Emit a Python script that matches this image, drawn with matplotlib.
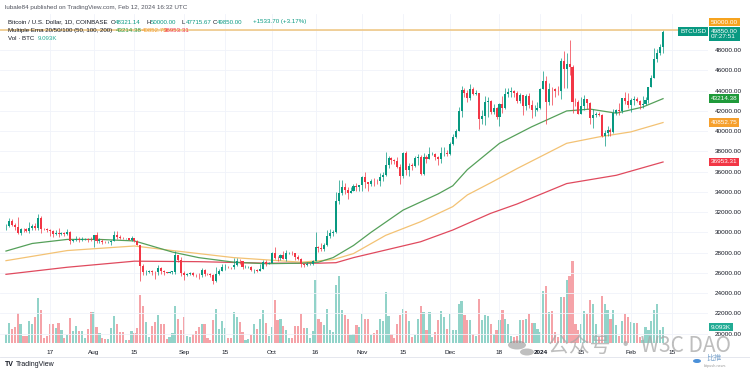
import matplotlib
matplotlib.use("Agg")
import matplotlib.pyplot as plt
import matplotlib.dates as mdates
import matplotlib.transforms as mtrans
from matplotlib.patches import Circle
import numpy as np
import pandas as pd

# BTCUSD daily, Coinbase, 2 Jul 2023 .. 12 Feb 2024
START = "2023-07-02"
first_open = 30585

closes = [
    # Jul
    30615, 31150, 30770, 30500, 29900, 30340, 30290, 30170, 30410, 30620, 30380, 31450, 30310, 30290, 30230,
    30140, 29860, 29910, 29800, 29900, 29790, 30080, 29180, 29230, 29350, 29210, 29310, 29350, 29280, 29230,
    # Aug
    29700, 29170, 29180, 29080, 29040, 29050, 29190, 29770, 29570, 29430, 29400, 29420, 29280, 29400, 29170, 28700,
    26630, 26050, 26100, 26190, 26120, 26040, 26430, 26170, 26060, 26010, 26090, 26100, 27720, 27300, 25940,
    # Sep
    25800, 25870, 25970, 25820, 25780, 25750, 26240, 25910, 25890, 25830, 25160, 25840, 26220, 26530, 26600,
    26570, 26530, 26760, 27210, 27130, 26570, 26580, 26580, 26250, 26300, 26220, 26370, 27030, 26910, 26970,
    # Oct
    28000, 27500, 27430, 27800, 27410, 27950, 27970, 27940, 27590, 27390, 26880, 26760, 26860, 26860, 27160, 28520,
    28420, 28330, 28720, 29680, 29920, 30000, 33090, 33910, 34500, 34160, 33910, 34090, 34540, 34500, 34660,
    # Nov
    35440, 34940, 34730, 35080, 35050, 35040, 35430, 35640, 36700, 37320, 37130, 37060, 36490, 35550, 37880,
    36160, 36600, 36590, 37390, 37470, 35810, 37420, 37290, 37720, 37790, 37450, 37250, 37830, 37850, 37720,
    # Dec
    38690, 39460, 39970, 41990, 44080, 43770, 43290, 44170, 43720, 43790, 41240, 41490, 42880, 43020, 41940, 42260,
    41360, 42660, 42270, 43650, 43870, 43990, 43740, 43010, 43580, 42520, 43440, 42580, 42070, 42140, 42280,
    # Jan
    44180, 44950, 42850, 44180, 44160, 43970, 43930, 46960, 46120, 46660, 46390, 42850, 42840, 41730, 42510, 43150,
    42740, 41260, 41620, 41670, 41550, 39510, 39840, 40080, 39930, 41800, 42120, 42030, 43300, 42950, 42570,
    # Feb
    43080, 43190, 43000, 42580, 42660, 43090, 44340, 45290, 47130, 47750, 48321, 49850,
]

highs = [
    30780, 31380, 31320, 30880, 31500, 30450, 30380, 30430, 31030, 30800, 30970, 31810, 31640, 30400, 30440,
    30340, 30240, 30190, 30400, 30050, 29990, 30350, 30100, 29380, 29680, 29580, 29530, 29410, 29450, 29520,
    29740, 30050, 29420, 29320, 29100, 29170, 29250, 30180, 30140, 29690, 29530, 29460, 29460, 29660, 29450, 29220,
    28780, 26830, 26260, 26300, 26250, 26130, 26800, 26560, 26300, 26080, 26180, 26220, 28140, 27760, 27580,
    26140, 25980, 26120, 26100, 25880, 26020, 26440, 26420, 25950, 26000, 25880, 26550, 26380, 26830, 26880,
    26670, 26620, 27430, 27480, 27380, 27160, 26730, 26630, 26720, 26420, 26390, 26840, 27310, 27230, 27090,
    28060, 28590, 27670, 27830, 28120, 28280, 28040, 28110, 27990, 27730, 27480, 26950, 27100, 26970, 27290, 30000,
    28610, 28980, 28930, 30220, 30340, 30200, 34000, 35200, 35130, 34850, 34480, 34480, 34760, 34850, 34720,
    35570, 35980, 34940, 35240, 35400, 35280, 35880, 35980, 37970, 37520, 37410, 37240, 37420, 36760, 37980,
    38000, 36850, 36850, 37500, 37750, 37650, 37870, 37650, 38420, 37900, 37840, 37570, 38390, 38420, 38150,
    38970, 39690, 40190, 42410, 44490, 44300, 44060, 44700, 44370, 44040, 43790, 42080, 43440, 43420, 43090, 42720,
    42430, 42750, 43500, 44280, 44230, 44380, 44040, 43950, 43800, 43600, 43670, 43800, 43120, 42610, 42900,
    44230, 45900, 45500, 44780, 44350, 44230, 44500, 47250, 47890, 47700, 48970, 46500, 43260, 43080, 43400, 43580,
    43210, 42920, 42200, 41860, 41880, 41680, 40160, 40540, 40290, 42220, 42200, 42830, 43320, 43870, 43750,
    43290, 43480, 43380, 43110, 43500, 43420, 44380, 45600, 48200, 48150, 48590, 50000,
]

lows = [
    30270, 30570, 30640, 30200, 29850, 29700, 30050, 30060, 29950, 30280, 30200, 30250, 29950, 30250, 30080,
    29680, 29530, 29760, 29570, 29730, 29600, 29730, 28860, 29040, 29100, 29070, 29120, 29260, 29030, 29110,
    28590, 28950, 28960, 28800, 28950, 28970, 28700, 29110, 29370, 29330, 29330, 29360, 29250, 29100, 29050, 28700,
    25170, 25800, 25800, 25970, 25800, 25360, 25800, 25860, 25780, 25980, 25970, 25880, 25920, 27030, 25660,
    25330, 25720, 25800, 25650, 25580, 25400, 25620, 25660, 25810, 25600, 24900, 25130, 25760, 26130, 26230,
    26470, 26420, 26370, 26670, 26850, 26360, 26480, 26510, 26150, 25990, 26090, 26130, 26340, 26670, 26890,
    26950, 27330, 27170, 27250, 27340, 27180, 27860, 27730, 27290, 27300, 26560, 26550, 26690, 26820, 26810, 27120,
    28090, 28130, 28170, 28600, 29480, 29680, 29890, 32830, 33720, 33800, 33340, 33880, 34050, 34100, 34080,
    34110, 34400, 34100, 34600, 34540, 34740, 34550, 35110, 35540, 36340, 36740, 36770, 36340, 34800, 35360,
    35700, 35520, 36200, 36410, 36700, 35650, 35630, 36870, 37260, 37600, 37160, 36700, 36880, 37590, 37500,
    37620, 38650, 39290, 39970, 41420, 43340, 42840, 43100, 43580, 43570, 40250, 40700, 40620, 41430, 41680, 41700,
    41250, 40550, 41820, 42210, 43340, 43420, 43330, 42800, 42760, 41620, 42120, 42300, 41300, 41540, 41970,
    42180, 44180, 40750, 42630, 42630, 43420, 43580, 43200, 44300, 44310, 45600, 41800, 42440, 41720, 41730, 42050,
    42200, 40670, 40270, 41430, 41460, 39440, 38500, 39480, 39530, 39800, 41640, 41620, 41800, 42690, 42300,
    41880, 42600, 42880, 42220, 42270, 42570, 42790, 44340, 45250, 46800, 47560, 47715,
]

# volume, thousand BTC
volumes = [
    5.0, 11.4, 8.0, 9.1, 17.1, 10.8, 4.0, 4.0, 12.5, 10.8, 14.8, 25.6, 18.8, 2.9, 4.0, 10.8, 10.8, 8.5, 11.4, 7.4,
    2.9, 4.6, 14.2, 6.8, 9.7, 6.8, 6.8, 2.9, 8.0, 17.7, 17.7, 9.1, 5.7, 2.9, 2.3, 2.3, 8.5, 15.4, 10.8, 6.3,
    6.3, 1.7, 1.7, 6.8, 5.7, 8.5, 27.4, 21.1, 12.0, 3.4, 9.7, 12.0, 16.0, 10.8, 10.8, 2.3, 3.4, 5.7, 21.1, 13.7,
    7.4, 14.8, 4.0, 3.4, 5.1, 6.8, 9.1, 10.8, 10.8, 2.9, 1.7, 13.1, 19.4, 8.0, 12.5, 8.5, 2.9, 2.9, 17.7, 14.8,
    12.0, 6.3, 1.7, 2.3, 4.6, 10.8, 8.0, 13.7, 18.8, 11.4, 4.0, 9.1, 24.5, 13.1, 13.7, 9.7, 7.4, 2.9, 2.9, 9.7,
    9.7, 16.5, 8.5, 8.5, 2.9, 6.8, 35.9, 13.7, 12.0, 10.3, 19.4, 7.4, 6.3, 33.1, 38.2, 18.8, 16.0, 13.7, 4.6, 5.1,
    10.3, 9.1, 16.5, 13.7, 13.7, 4.6, 5.7, 7.4, 13.7, 12.5, 29.1, 15.4, 5.1, 2.9, 10.8, 16.0, 19.4, 18.2, 12.5, 3.4,
    4.6, 13.7, 21.1, 17.7, 7.4, 17.7, 3.4, 6.3, 13.1, 18.2, 14.8, 8.0, 16.5, 7.4, 7.4, 22.2, 23.9, 16.0, 13.1, 13.1,
    5.1, 4.0, 25.1, 13.1, 16.0, 15.4, 10.8, 5.1, 7.4, 13.1, 18.8, 13.7, 10.8, 4.0, 3.4, 4.0, 13.1, 13.1, 13.7, 16.5,
    11.4, 11.4, 8.0, 6.3, 29.6, 32.5, 17.7, 18.2, 6.3, 3.4, 26.2, 26.2, 35.9, 38.2, 46.7, 10.8, 7.4, 10.8, 18.2, 16.5,
    24.5, 22.2, 10.8, 3.4, 26.8, 22.2, 18.8, 13.7, 18.8, 10.3, 4.0, 12.5, 16.5, 14.8, 12.0, 11.4, 11.4, 3.4, 1.7, 9.1,
    7.4, 12.5, 18.8, 22.2, 7.4, 9.093,
]

# EMA lines, read at sample dates
ema50_dates = ["2023-07-02", "2023-07-11", "2023-07-23", "2023-08-03", "2023-08-15", "2023-08-28", "2023-09-06",
               "2023-09-18", "2023-09-29", "2023-10-11", "2023-10-17", "2023-10-22", "2023-10-29", "2023-11-04",
               "2023-11-09", "2023-11-15", "2023-11-21", "2023-11-27", "2023-12-02", "2023-12-07", "2023-12-18",
               "2023-12-29", "2024-01-10", "2024-01-18", "2024-01-27", "2024-02-05", "2024-02-12"]
ema50_vals = [28150, 28900, 29300, 29300, 29150, 28050, 27500, 27050, 26900, 26950, 27050, 27500, 28700, 30000,
              31000, 32200, 33000, 33800, 34600, 36200, 38800, 40430, 42000, 42180, 41780, 42380, 43214.38]

ema100_dates = ["2023-07-02", "2023-07-23", "2023-08-15", "2023-08-28", "2023-09-18", "2023-10-11", "2023-10-22",
                "2023-10-29", "2023-11-09", "2023-11-21", "2023-12-02", "2023-12-07", "2023-12-15", "2023-12-24",
                "2024-01-10", "2024-01-21", "2024-02-01", "2024-02-12"]
ema100_vals = [27200, 28200, 28650, 28200, 27500, 27050, 27300, 27900, 29700, 31050, 32540, 33700, 34900, 36300,
               38800, 39430, 39930, 40852.75]

ema200_dates = ["2023-07-02", "2023-07-23", "2023-08-15", "2023-09-06", "2023-09-29", "2023-10-17", "2023-10-23",
                "2023-10-29", "2023-11-09", "2023-11-21", "2023-12-02", "2023-12-15", "2023-12-24", "2024-01-10",
                "2024-01-27", "2024-02-12"]
ema200_vals = [25850, 26550, 27150, 27100, 26950, 26950, 27000, 27500, 28250, 29070, 30230, 31880, 32800, 34820,
               35640, 36953.31]

tick_dates = ["2023-07-17", "2023-08-01", "2023-08-15", "2023-09-01", "2023-09-15", "2023-10-01", "2023-10-16",
              "2023-11-01", "2023-11-15", "2023-12-01", "2023-12-18", "2024-01-01", "2024-01-15", "2024-02-01",
              "2024-02-15"]
tick_labels = ["17", "Aug", "15", "Sep", "15", "Oct", "16", "Nov", "15", "Dec", "18", "2024", "15", "Feb", "15"]
price_ticks = list(range(20000, 50000, 2000))

UP = "#089981"
DOWN = "#f23645"
UP_VOL = "#92d3c9"
DOWN_VOL = "#f5a3a8"
TXT = "#131722"
FONT = "Liberation Sans"

# header lines: (x pixel, text, colour)
header_line2 = [(8, "Bitcoin / U.S. Dollar, 1D, COINBASE", TXT), (111, "O", TXT), (115, "48321.14", UP),
                (146.5, "H", TXT), (151, "50000.00", UP), (182, "L", TXT), (186, "47715.67", UP),
                (213, "C", TXT), (217, "49850.00", UP), (253, "+1533.70 (+3.17%)", UP)]
header_line3 = [(8, "Multiple Ema 20/50/100 (50, 100, 200)", TXT), (115.5, "43214.38", "#2e9a3e"),
                (141.5, "40852.75", "#f6a02d"), (164, "36953.31", DOWN)]
header_line4 = [(8, "Vol · BTC", TXT), (37.5, "9.093K", "#22ab94")]

W, H = 750, 375
fig = plt.figure(figsize=(7.5, 3.75), dpi=100)
fig.patch.set_facecolor("white")
pos = [0, 32 / H, 708 / W, 329 / H]

dates = pd.date_range(START, periods=len(closes), freq="D")
x = mdates.date2num(dates)
c = np.array(closes, dtype=float)
o = np.concatenate([[first_open], c[:-1]])
hi = np.array(highs, dtype=float)
lo = np.array(lows, dtype=float)
up = c >= o

# volume pane (behind)
axv = fig.add_axes(pos)
axv.bar(x, volumes, width=0.75, color=np.where(up, UP_VOL, DOWN_VOL), linewidth=0)
axv.set_ylim(0, 329 * 0.57)
axv.set_xlim(x[0] - 2.05, x[0] + 240.4)
axv.axis("off")

ax = fig.add_axes(pos)
ax.set_facecolor("none")
ax.set_xlim(x[0] - 2.05, x[0] + 240.4)
ax.set_ylim(19061, 51582)

for p in range(20000, 52000, 2000):
    ax.axhline(p, color="#f0f3fa", lw=0.6, zorder=0)
for d in tick_dates:
    ax.axvline(mdates.datestr2num(d), color="#f0f3fa", lw=0.6, zorder=0)

# emas
ax.plot(mdates.datestr2num(ema200_dates), ema200_vals, color="#e04a5e", lw=0.9, zorder=2)
ax.plot(mdates.datestr2num(ema100_dates), ema100_vals, color="#f3c274", lw=0.9, zorder=2)
ax.plot(mdates.datestr2num(ema50_dates), ema50_vals, color="#55a05a", lw=0.9, zorder=2)

# candles
cols = np.where(up, UP, DOWN)
ax.vlines(x, lo, hi, colors=cols, lw=0.5, zorder=3)
body = np.maximum(np.abs(c - o), 40)
ax.bar(x, body, bottom=np.minimum(o, c), width=0.7, color=cols, linewidth=0, zorder=4)

ax.axhline(50000, color="#efc57e", lw=1.1, zorder=5)

for s in ax.spines.values():
    s.set_visible(False)
ax.set_xticks(mdates.datestr2num(tick_dates))
ax.set_xticklabels(tick_labels)
for lab in ax.get_xticklabels():
    lab.set_fontfamily(FONT)
    if lab.get_text() == "2024":
        lab.set_fontweight("bold")
ax.tick_params(axis="x", length=0, pad=5, labelsize=4.6, labelcolor=TXT)
ax.yaxis.tick_right()
ax.set_yticks(price_ticks)
ax.set_yticklabels([f"{p:.2f}" for p in price_ticks], fontfamily=FONT)
ax.tick_params(axis="y", length=0, pad=5, labelsize=4.6, labelcolor=TXT)

# price scale tags
bt = mtrans.blended_transform_factory(ax.transAxes, ax.transData)
def tag(yv, text, color, xa=1.0, trans=bt, size=4.6):
    ax.text(xa, yv, text, transform=trans, color="white", fontsize=size, fontfamily=FONT,
            ha="left", va="center", zorder=10, clip_on=False,
            bbox=dict(boxstyle="square,pad=0.3", fc=color, ec="none"))

tag(50790, "50000.00", "#f6a31f", xa=1.004)
tag(49600, "49850.00\n07:27:51", UP, xa=1.004)
tag(49850, "BTCUSD", UP, xa=0.961)
tag(43214.38, "43214.38", "#1f9a3a", xa=1.004)
tag(40852.75, "40852.75", "#f6a02d", xa=1.004)
tag(36953.31, "36953.31", DOWN, xa=1.004)
tag(9.093, "9.093K", "#22ab94", xa=1.004,
    trans=mtrans.blended_transform_factory(ax.transAxes, axv.transData))

# bottom border of time scale
fig.add_artist(plt.Line2D([0, 1], [1 - 357 / H] * 2, color="#e0e3eb", lw=0.6))

# header
fig.text(5 / W, 1 - 7.5 / H, "lubale84 published on TradingView.com, Feb 12, 2024 16:32 UTC",
         color="#50535e", fontsize=4.5, fontfamily=FONT, ha="left", va="center")
for y_px, parts in [(22, header_line2), (30.5, header_line3), (38.5, header_line4)]:
    for x_px, s, col in parts:
        fig.text(x_px / W, 1 - y_px / H, s, color=col, fontsize=4.4, fontfamily=FONT,
                 ha="left", va="center")

# footer logo
fig.text(5 / W, 1 - 365 / H, "TV", fontsize=5, fontweight="bold", color=TXT, fontfamily=FONT, va="center")
fig.text(16 / W, 1 - 365 / H, "TradingView", fontsize=5, color=TXT, fontfamily=FONT, va="center")

# watermark
for cx, cy, r in [(517, 345, 9), (527, 352, 7)]:
    fig.add_artist(Circle((cx / W, 1 - cy / H), r / W, transform=fig.transFigure,
                          color="#8c8c8c", alpha=0.55, lw=0))
fig.text(548 / W, 1 - 346 / H, "公众号 · W3C DAO", fontsize=15, color="#a8a8a8", alpha=0.75,
         family=["Noto Sans CJK SC", "DejaVu Sans"], va="center", ha="left")
fig.add_artist(Circle((697 / W, 1 - 361 / H), 4 / W, transform=fig.transFigure, color="#4a90d9", lw=0))
fig.text(706 / W, 1 - 358 / H, "比推", fontsize=5.5, color="#7fa7cf",
         family=["Noto Sans CJK SC", "DejaVu Sans"], va="center", ha="left")
fig.text(704 / W, 1 - 366 / H, "bitpush.news", fontsize=2.8, color="#a0a0a0", fontfamily=FONT,
         va="center", ha="left")

fig.savefig("out.png", dpi=100, facecolor="white")
